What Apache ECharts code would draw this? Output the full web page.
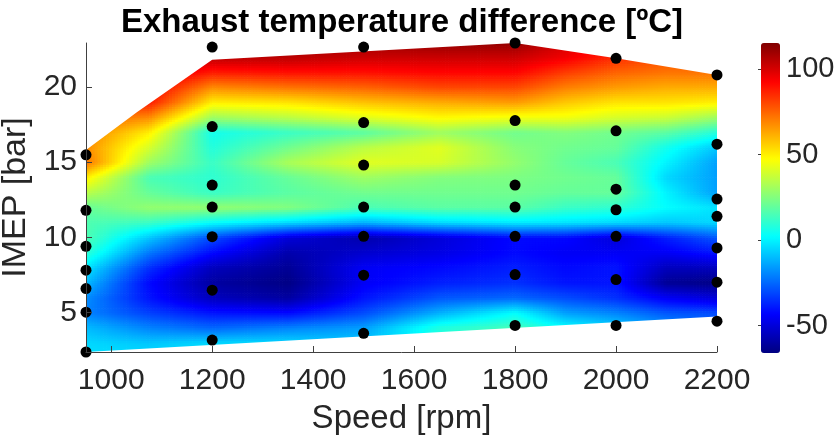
<!DOCTYPE html>
<html>
<head>
<meta charset="utf-8">
<script src="https://cdn.jsdelivr.net/npm/echarts@6/dist/echarts.min.js"></script>
<style>
  html, body { margin: 0; padding: 0; background: #fff; }
  #chart { width: 836px; height: 444px; }
</style>
</head>
<body>
<div id="chart"></div>
<script>
// Grid nodes of the temperature-difference map
const speedNodes = [950, 1075, 1200, 1350, 1500, 1650, 1800, 1900, 2000, 2100, 2200];
const imepNodes = [2, 3, 4, 5, 6, 7, 8, 9, 10, 11, 12, 13, 14, 15, 16, 17, 18, 19, 20, 21, 22, 23];

// Exhaust temperature difference [ºC] at each IMEP node, one array per speed column
const t950  = [-3, -5, -10, -20, -18, -10, -2, 10, 16, 16, 20, 35, 50, 72, 68, 70, 75, 80, 85, 90, 95, 100];
const t1075 = [-3, -8, -20, -32, -40, -42, -35, -22, -8, 12, 28, 20, 15, 30, 40, 50, 68, 88, 95, 100, 105, 108];
const t1200 = [-3, -5, -25, -40, -55, -60, -55, -42, -30, 2, 28, 12, 10, 12, 8, 5, 30, 50, 68, 88, 105, 110];
const t1350 = [-3, -5, -20, -42, -60, -65, -62, -58, -50, -5, 25, 18, 20, 32, 22, 12, 35, 52, 72, 90, 105, 110];
const t1500 = [-5, -8, -15, -30, -40, -45, -45, -52, -58, -12, 15, 22, 30, 42, 35, 18, 42, 58, 75, 90, 102, 110];
const t1650 = [0, 5, 8, -12, -28, -38, -42, -48, -50, -5, 18, 22, 25, 40, 42, 30, 48, 62, 80, 92, 102, 112];
const t1800 = [10, 12, 15, 2, -25, -35, -38, -42, -42, -2, 18, 22, 24, 28, 26, 22, 45, 65, 80, 92, 102, 112];
const t1900 = [0, 2, 3, -15, -30, -40, -42, -45, -42, -3, 12, 20, 22, 20, 22, 25, 45, 57, 70, 82, 95, 100];
const t2000 = [-3, -4, -5, -20, -35, -40, -40, -45, -50, -5, 10, 20, 20, 15, 20, 22, 40, 52, 65, 75, 85, 90];
const t2100 = [-15, -15, -15, -28, -45, -62, -55, -45, -38, -8, 2, 0, -5, 0, 5, 18, 38, 52, 62, 72, 78, 80];
const t2200 = [-25, -25, -25, -30, -50, -65, -55, -40, -28, -5, -3, -15, -15, -15, -8, 8, 30, 50, 62, 72, 75, 78];
const fieldColumns = [t950, t1075, t1200, t1350, t1500, t1650, t1800, t1900, t2000, t2100, t2200];

// Outline of the measured region (upper and lower edges)
const regionTop = [[950, 15.8], [1050, 18.3], [1200, 21.8], [1800, 22.92], [2000, 21.9], [2200, 20.8]];
const regionBottom = [[950, 2.37], [2200, 4.73]];

// Operating points
const pointSpeed = [950, 950, 950, 950, 950, 950, 950,
                    1200, 1200, 1200, 1200, 1200, 1200, 1200,
                    1500, 1500, 1500, 1500, 1500, 1500, 1500,
                    1800, 1800, 1800, 1800, 1800, 1800, 1800,
                    2000, 2000, 2000, 2000, 2000, 2000, 2000,
                    2200, 2200, 2200, 2200, 2200, 2200, 2200];
const pointImep = [2.37, 5.02, 6.59, 7.81, 9.40, 11.79, 15.48,
                   3.16, 6.48, 10.04, 12.01, 13.47, 17.36, 22.65,
                   3.61, 7.48, 10.06, 12.01, 14.80, 17.63, 22.65,
                   4.14, 7.52, 10.06, 12.01, 13.47, 17.76, 22.92,
                   4.14, 7.19, 10.06, 11.83, 13.20, 17.08, 21.90,
                   4.42, 7.01, 9.29, 11.39, 12.54, 16.19, 20.80];

// Axis ticks
const speedTicks = [1000, 1200, 1400, 1600, 1800, 2000, 2200];
const imepTicks = [5, 10, 15, 20];
const colorTicks = [-50, 0, 50, 100];
const colorMin = -66;
const colorMax = 115.3;

const FONT = "'Liberation Sans', Arial, Helvetica, sans-serif";
const INK = '#262626';
const plain = function (v) { return String(v); };

// jet colormap
const jetStops = ['#000080', '#0000ff', '#0080ff', '#00ffff', '#80ff80', '#ffff00', '#ff8000', '#ff0000', '#800000'];
function clamp01(v) { return v < 0 ? 0 : (v > 1 ? 1 : v); }
function jetColor(val) {
  const t = clamp01((val - colorMin) / (colorMax - colorMin));
  const r = clamp01(1.5 - Math.abs(4 * t - 3));
  const g = clamp01(1.5 - Math.abs(4 * t - 2));
  const b = clamp01(1.5 - Math.abs(4 * t - 1));
  return 'rgb(' + Math.round(r * 255) + ',' + Math.round(g * 255) + ',' + Math.round(b * 255) + ')';
}

// One item per grid cell, shaded smoothly between its four corner values
const cellData = [];
for (let i = 0; i < speedNodes.length - 1; i++) {
  for (let j = 0; j < imepNodes.length - 1; j++) {
    cellData.push([i, j]);
  }
}

function renderCell(params, api) {
  const i = api.value(0), j = api.value(1);
  const c0 = fieldColumns[i], c1 = fieldColumns[i + 1];
  const v00 = c0[j], v01 = c0[j + 1], v10 = c1[j], v11 = c1[j + 1];
  const pa = api.coord([speedNodes[i], imepNodes[j]]);
  const pb = api.coord([speedNodes[i + 1], imepNodes[j + 1]]);
  const w = pb[0] - pa[0];
  const h = pa[1] - pb[1];
  const nx = Math.max(1, Math.ceil(w / 3));
  const ny = Math.max(1, Math.ceil(h / 2.5));
  const children = [];
  for (let a = 0; a < nx; a++) {
    for (let b = 0; b < ny; b++) {
      const u = (a + 0.5) / nx, v = (b + 0.5) / ny;
      const val = v00 * (1 - u) * (1 - v) + v10 * u * (1 - v) + v01 * (1 - u) * v + v11 * u * v;
      children.push({
        type: 'rect',
        silent: true,
        shape: { x: pa[0] + w * a / nx, y: pa[1] - h * (b + 1) / ny, width: w / nx + 0.7, height: h / ny + 0.7 },
        style: { fill: jetColor(val) }
      });
    }
  }
  return { type: 'group', children: children };
}

// White cover outside the measured region
function renderMask(params, api) {
  const cs = params.coordSys;
  const top = cs.y, bottom = cs.y + cs.height;
  let pts;
  if (params.dataIndex === 0) {
    const p = regionTop.map(function (d) { return api.coord(d); });
    const first = p[0], last = p[p.length - 1];
    pts = [[first[0] - 4, first[1]]].concat(p, [[last[0] + 4, last[1]], [last[0] + 4, top - 4], [first[0] - 4, top - 4]]);
  } else {
    const p = regionBottom.map(function (d) { return api.coord(d); });
    const first = p[0], last = p[p.length - 1];
    pts = [[first[0] - 4, first[1]]].concat(p, [[last[0] + 4, last[1]], [last[0] + 4, bottom + 4], [first[0] - 4, bottom + 4]]);
  }
  return { type: 'polygon', silent: true, shape: { points: pts }, style: { fill: '#ffffff' } };
}

const chart = echarts.init(document.getElementById('chart'), null, { renderer: 'canvas' });

chart.setOption({
  backgroundColor: '#ffffff',
  animation: false,
  title: {
    text: 'Exhaust temperature difference [ºC]',
    left: 397,
    textAlign: 'center',
    top: 1,
    textStyle: { fontFamily: FONT, fontSize: 33, fontWeight: 'bold', color: '#000' }
  },
  grid: [
    { left: 86, top: 43, width: 631, height: 309, containLabel: false, outerBoundsMode: 'none' },
    { left: 761, top: 43, width: 19, height: 310, containLabel: false, outerBoundsMode: 'none' }
  ],
  visualMap: {
    type: 'continuous',
    seriesIndex: [],
    min: colorMin,
    max: colorMax,
    calculable: false,
    hoverLink: false,
    left: 761,
    top: 43,
    padding: 0,
    itemWidth: 19,
    itemHeight: 310,
    text: null,
    inRange: { color: jetStops },
    borderWidth: 0
  },
  xAxis: [
    {
      type: 'value', gridIndex: 0, min: 950, max: 2200, z: 10,
      name: 'Speed [rpm]', nameLocation: 'middle', nameGap: 50,
      nameTextStyle: { fontFamily: FONT, fontSize: 33, color: INK },
      axisLine: { show: true, onZero: false, lineStyle: { color: '#404040', width: 1 } },
      axisTick: { show: true, inside: true, length: 6, customValues: speedTicks, lineStyle: { color: '#404040' } },
      axisLabel: { customValues: speedTicks, formatter: plain, fontFamily: FONT, fontSize: 30, color: INK, margin: 14 },
      splitLine: { show: false }
    },
    { type: 'value', gridIndex: 1, min: 0, max: 1, show: false }
  ],
  yAxis: [
    {
      type: 'value', gridIndex: 0, min: 2.37, max: 22.92, z: 10,
      name: 'IMEP [bar]', nameLocation: 'middle', nameGap: 37, nameRotate: 90,
      nameTextStyle: { fontFamily: FONT, fontSize: 34, color: INK },
      axisLine: { show: true, onZero: false, lineStyle: { color: '#404040', width: 1 } },
      axisTick: { show: true, inside: true, length: 6, customValues: imepTicks, lineStyle: { color: '#404040' } },
      axisLabel: { customValues: imepTicks, formatter: plain, fontFamily: FONT, fontSize: 30, color: INK, margin: 9 },
      splitLine: { show: false }
    },
    {
      type: 'value', gridIndex: 1, min: colorMin, max: colorMax, position: 'right', z: 10,
      axisLine: { show: false },
      axisTick: { show: true, inside: true, length: 3, customValues: colorTicks, lineStyle: { color: '#404040' } },
      axisLabel: { customValues: colorTicks, formatter: plain, fontFamily: FONT, fontSize: 29, color: INK, margin: 6 },
      splitLine: { show: false }
    }
  ],
  series: [
    {
      type: 'custom',
      xAxisIndex: 0, yAxisIndex: 0,
      clip: true,
      silent: true,
      z: 1,
      data: cellData,
      renderItem: renderCell
    },
    {
      type: 'custom',
      xAxisIndex: 0, yAxisIndex: 0,
      clip: false,
      silent: true,
      z: 2,
      data: [[0], [1]],
      renderItem: renderMask
    },
    {
      type: 'scatter',
      xAxisIndex: 0, yAxisIndex: 0,
      clip: false,
      z: 5,
      symbol: 'circle',
      symbolSize: 11,
      itemStyle: { color: '#000000', opacity: 1 },
      data: pointSpeed.map(function (s, k) { return [s, pointImep[k]]; })
    }
  ]
});
</script>
</body>
</html>
